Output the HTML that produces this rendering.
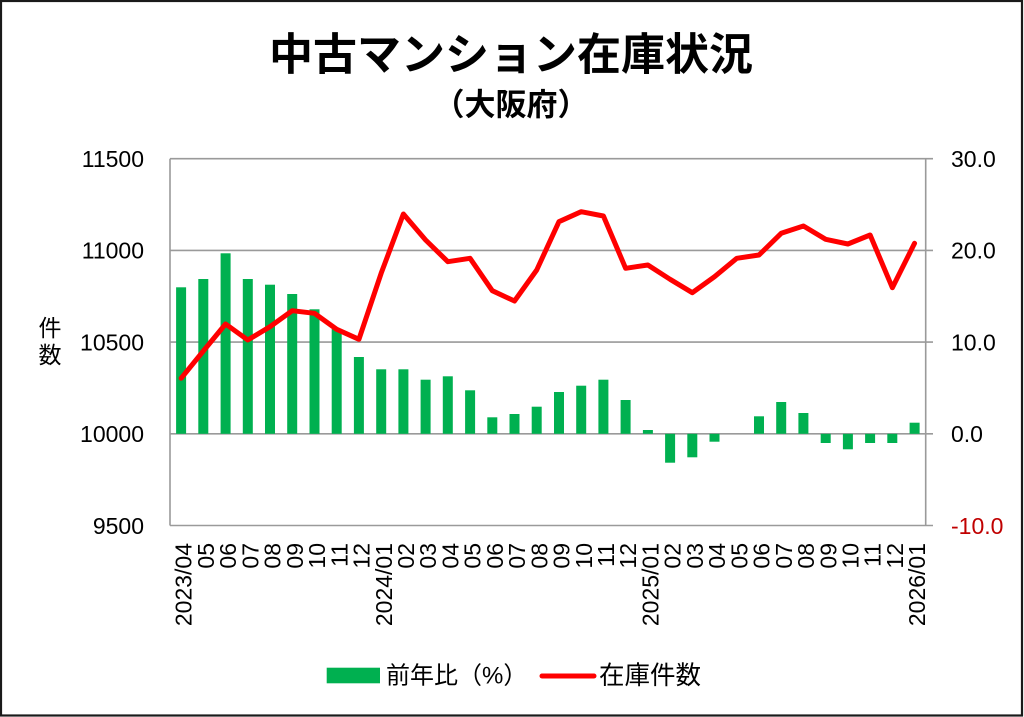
<!DOCTYPE html>
<html>
<head>
<meta charset="utf-8">
<style>
html,body{margin:0;padding:0;background:#fff;}
svg{display:block;}
text{font-family:"Liberation Sans","Noto Sans CJK JP",sans-serif;}
.cjk{font-family:"Liberation Sans","Noto Sans CJK JP",sans-serif;}
</style>
</head>
<body>
<svg width="1024" height="717" viewBox="0 0 1024 717" xmlns="http://www.w3.org/2000/svg">
  <rect x="0" y="0" width="1024" height="717" fill="#fff"/>
  <rect x="1" y="1" width="1021" height="714.5" fill="none" stroke="#1a1a1a" stroke-width="2.2"/>

  <!-- Title -->
  <text class="cjk" x="511" y="55" font-size="44" font-weight="bold" text-anchor="middle" dominant-baseline="central" fill="#000">中古マンション在庫状況</text>
  <text class="cjk" x="511" y="105" font-size="31" font-weight="bold" text-anchor="middle" dominant-baseline="central" fill="#000">（大阪府）</text>

  <!-- gridlines -->
  <g stroke="#9a9a9a" stroke-width="1.6">
    <line x1="170" y1="158.7" x2="933" y2="158.7"/>
    <line x1="170" y1="250.4" x2="933" y2="250.4"/>
    <line x1="170" y1="342.1" x2="933" y2="342.1"/>
    <line x1="170" y1="433.8" x2="933" y2="433.8"/>
    <line x1="170" y1="525.5" x2="933" y2="525.5"/>
    <line x1="170" y1="158.7" x2="170" y2="525.5"/>
    <line x1="925.7" y1="158.7" x2="925.7" y2="525.5"/>
  </g>

  <!-- bars -->
  <g fill="#00b050">
    <rect x="176.1" y="287.3" width="10" height="146.5"/>
    <rect x="198.3" y="279" width="10" height="154.8"/>
    <rect x="220.6" y="253.3" width="10" height="180.5"/>
    <rect x="242.8" y="279" width="10" height="154.8"/>
    <rect x="265.0" y="284.7" width="10" height="149.1"/>
    <rect x="287.2" y="294" width="10" height="139.8"/>
    <rect x="309.5" y="309.3" width="10" height="124.5"/>
    <rect x="331.7" y="329" width="10" height="104.8"/>
    <rect x="353.9" y="357" width="10" height="76.8"/>
    <rect x="376.2" y="369.3" width="10" height="64.5"/>
    <rect x="398.4" y="369.3" width="10" height="64.5"/>
    <rect x="420.6" y="379.7" width="10" height="54.1"/>
    <rect x="442.8" y="376.3" width="10" height="57.5"/>
    <rect x="465.1" y="390.3" width="10" height="43.5"/>
    <rect x="487.3" y="417.3" width="10" height="16.5"/>
    <rect x="509.5" y="414" width="10" height="19.8"/>
    <rect x="531.7" y="406.7" width="10" height="27.1"/>
    <rect x="554.0" y="392" width="10" height="41.8"/>
    <rect x="576.2" y="385.7" width="10" height="48.1"/>
    <rect x="598.4" y="379.7" width="10" height="54.1"/>
    <rect x="620.6" y="400" width="10" height="33.8"/>
    <rect x="642.9" y="430" width="10" height="3.8"/>
    <rect x="665.1" y="433.8" width="10" height="28.9"/>
    <rect x="687.3" y="433.8" width="10" height="23.5"/>
    <rect x="709.5" y="433.8" width="10" height="7.9"/>
    <rect x="754.0" y="416.3" width="10" height="17.5"/>
    <rect x="776.2" y="402" width="10" height="31.8"/>
    <rect x="798.4" y="413" width="10" height="20.8"/>
    <rect x="820.7" y="433.8" width="10" height="9.2"/>
    <rect x="842.9" y="433.8" width="10" height="15.5"/>
    <rect x="865.1" y="433.8" width="10" height="9.2"/>
    <rect x="887.3" y="433.8" width="10" height="9.2"/>
    <rect x="909.6" y="422.7" width="10" height="11.1"/>
  </g>

  <!-- line -->
  <polyline fill="none" stroke="#ff0000" stroke-width="5" stroke-linejoin="round" stroke-linecap="round"
    points="181.11,378.3 203.34,351 225.57,324 247.79,340 270.02,326.7 292.24,310.7 314.47,313.3 336.70,329.3 358.92,339.3 381.15,273.3 403.37,214 425.60,240 447.83,261.7 470.05,258.3 492.28,290.7 514.50,301 536.73,270 558.96,221.7 581.18,211.7 603.41,216 625.63,268.3 647.86,265 670.09,279.3 692.31,292.7 714.54,276.7 736.76,258.3 758.99,255 781.22,233.3 803.44,226 825.67,239.3 847.89,244 870.12,235 892.35,287.7 914.57,243.3"/>

  <!-- left axis labels -->
  <g font-size="23" fill="#000" text-anchor="end">
    <text x="144" y="167">11500</text>
    <text x="144" y="258.7">11000</text>
    <text x="144" y="350.4">10500</text>
    <text x="144" y="442.1">10000</text>
    <text x="144" y="533.8">9500</text>
  </g>
  <!-- right axis labels -->
  <g font-size="23" fill="#000">
    <text x="951" y="167">30.0</text>
    <text x="951" y="258.7">20.0</text>
    <text x="951" y="350.4">10.0</text>
    <text x="951" y="442.1">0.0</text>
    <text x="951" y="533.8" fill="#c00000">-10.0</text>
  </g>

  <!-- y axis title -->
  <text class="cjk" x="50" y="328" font-size="23" text-anchor="middle" dominant-baseline="central">件</text>
  <text class="cjk" x="50" y="355" font-size="23" text-anchor="middle" dominant-baseline="central">数</text>

  <!-- x labels -->
  <g font-size="23" fill="#000" text-anchor="end">
    <text transform="translate(191.7,543) rotate(-90)">2023/04</text>
    <text transform="translate(213.9,543) rotate(-90)">05</text>
    <text transform="translate(236.2,543) rotate(-90)">06</text>
    <text transform="translate(258.4,543) rotate(-90)">07</text>
    <text transform="translate(280.6,543) rotate(-90)">08</text>
    <text transform="translate(302.8,543) rotate(-90)">09</text>
    <text transform="translate(325.1,543) rotate(-90)">10</text>
    <text transform="translate(347.3,543) rotate(-90)">11</text>
    <text transform="translate(369.5,543) rotate(-90)">12</text>
    <text transform="translate(391.8,543) rotate(-90)">2024/01</text>
    <text transform="translate(414.0,543) rotate(-90)">02</text>
    <text transform="translate(436.2,543) rotate(-90)">03</text>
    <text transform="translate(458.4,543) rotate(-90)">04</text>
    <text transform="translate(480.7,543) rotate(-90)">05</text>
    <text transform="translate(502.9,543) rotate(-90)">06</text>
    <text transform="translate(525.1,543) rotate(-90)">07</text>
    <text transform="translate(547.3,543) rotate(-90)">08</text>
    <text transform="translate(569.6,543) rotate(-90)">09</text>
    <text transform="translate(591.8,543) rotate(-90)">10</text>
    <text transform="translate(614.0,543) rotate(-90)">11</text>
    <text transform="translate(636.2,543) rotate(-90)">12</text>
    <text transform="translate(658.5,543) rotate(-90)">2025/01</text>
    <text transform="translate(680.7,543) rotate(-90)">02</text>
    <text transform="translate(702.9,543) rotate(-90)">03</text>
    <text transform="translate(725.1,543) rotate(-90)">04</text>
    <text transform="translate(747.4,543) rotate(-90)">05</text>
    <text transform="translate(769.6,543) rotate(-90)">06</text>
    <text transform="translate(791.8,543) rotate(-90)">07</text>
    <text transform="translate(814.0,543) rotate(-90)">08</text>
    <text transform="translate(836.3,543) rotate(-90)">09</text>
    <text transform="translate(858.5,543) rotate(-90)">10</text>
    <text transform="translate(880.7,543) rotate(-90)">11</text>
    <text transform="translate(903.0,543) rotate(-90)">12</text>
    <text transform="translate(925.2,543) rotate(-90)">2026/01</text>
  </g>

  <!-- legend -->
  <rect x="326.7" y="667.7" width="53.3" height="15.6" fill="#00b050"/>
  <text class="cjk" x="386" y="676" font-size="24" dominant-baseline="central" fill="#000">前年比（%）</text>
  <line x1="542" y1="676" x2="594" y2="676" stroke="#ff0000" stroke-width="5" stroke-linecap="round"/>
  <text class="cjk" x="599" y="676" font-size="25.5" dominant-baseline="central" fill="#000">在庫件数</text>
</svg>
</body>
</html>
